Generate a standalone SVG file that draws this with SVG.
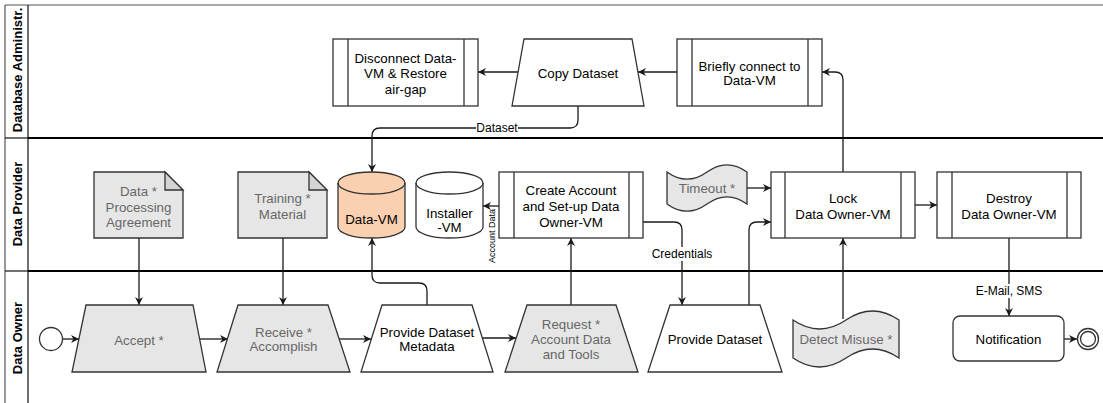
<svg xmlns="http://www.w3.org/2000/svg" width="1103" height="403" viewBox="0 0 1103 403">
  <defs>
    <style>
      .pool { fill: none; stroke: #555; stroke-width: 1.2; }
      .hdr { stroke: #222; stroke-width: 1.3; }
      .sep { stroke: #000; stroke-width: 2.2; }
      .sh { fill: #fff; stroke: #333; stroke-width: 1.3; }
      .gr { fill: #e6e6e6; }
      .peach { fill: #fad0b0; }
      .fold { fill: #d4d4d4; stroke: #333; stroke-width: 1.3; }
      .c { fill: none; stroke: #1a1a1a; stroke-width: 1.3; marker-end: url(#arr); }
      .cn { fill: none; stroke: #1a1a1a; stroke-width: 1.3; }
      .t { font-family: "Liberation Sans", Arial, sans-serif; font-size: 13.3px; text-anchor: middle; fill: #000; }
      .tg { fill: #666; }
      .lane { font-family: "Liberation Sans", Arial, sans-serif; font-size: 13px; font-weight: bold; text-anchor: middle; fill: #000; }
      .lbl { font-family: "Liberation Sans", Arial, sans-serif; font-size: 12px; text-anchor: middle; fill: #000; }
      .small { font-family: "Liberation Sans", Arial, sans-serif; font-size: 9px; text-anchor: middle; fill: #000; }
      .bg { fill: #fff; }
    </style>
    <marker id="arr" viewBox="0 0 10 10" refX="10" refY="5" markerWidth="8" markerHeight="8" markerUnits="userSpaceOnUse" orient="auto">
      <path d="M0,0 L10,5 L0,10 L3,5 Z" fill="#1a1a1a"/>
    </marker>
  </defs>

  <rect x="0" y="0" width="1103" height="403" fill="#fff"/>

  <!-- pool and swimlanes -->
  <g id="pool">
    <line class="pool" x1="5" y1="5" x2="1103" y2="5"/>
    <line class="pool" x1="5" y1="5" x2="5" y2="403"/>
    <line class="hdr" x1="28" y1="5" x2="28" y2="403"/>
    <line class="hdr" x1="5" y1="138" x2="28" y2="138"/>
    <line class="hdr" x1="5" y1="271" x2="28" y2="271"/>
    <line class="sep" x1="28" y1="138" x2="1103" y2="138"/>
    <line class="sep" x1="28" y1="271" x2="1103" y2="271"/>
    <text class="lane" transform="translate(21.5,70) rotate(-90)">Database Administr.</text>
    <text class="lane" transform="translate(21.5,204) rotate(-90)">Data Provider</text>
    <text class="lane" transform="translate(21.5,338) rotate(-90)">Data Owner</text>
  </g>

  <!-- connectors -->
  <g id="connectors">
    <path class="c" d="M62 339 L79 339"/>
    <path class="c" d="M200 339 L228 339"/>
    <path class="c" d="M339 339 L371 339"/>
    <path class="c" d="M483 338 L516 338"/>
    <path class="c" d="M139 238 L139 305"/>
    <path class="c" d="M283 238 L283 305"/>
    <path class="c" d="M427 305 L427 291 Q427 283 419 283 L380 283 Q372 283 372 275 L372 238"/>
    <path class="c" d="M578 106 L578 120 Q578 128 570 128 L380 128 Q372 128 372 136 L372 172"/>
    <path class="c" d="M571 305 L571 238"/>
    <path class="c" d="M499 206 L483 206"/>
    <path class="c" d="M643 222 L674 222 Q682 222 682 230 L682 305"/>
    <path class="c" d="M749 305 L749 230 Q749 222 757 222 L771 222"/>
    <path class="c" d="M747 188 L771 188"/>
    <path class="c" d="M843 319 L843 238"/>
    <path class="c" d="M843 172 L843 80 Q843 72 835 72 L822 72"/>
    <path class="c" d="M677 72 L638 72"/>
    <path class="c" d="M518 72 L478 72"/>
    <path class="c" d="M915 205 L937 205"/>
    <path class="c" d="M1009 238 L1009 316"/>
    <path class="c" d="M1064 339 L1077 339"/>

    <rect class="bg" x="476" y="121" width="42" height="14"/>
    <text class="lbl" x="497" y="132.2">Dataset</text>
    <rect class="bg" x="651" y="247" width="62" height="14"/>
    <text class="lbl" x="682" y="258.2">Credentials</text>
    <rect class="bg" x="975" y="284" width="68" height="14"/>
    <text class="lbl" x="1009" y="295.2">E-Mail, SMS</text>
    <text class="small" transform="translate(495.2,236) rotate(-90)">Account Data</text>
  </g>

  <!-- Database Administrator lane -->
  <g id="disconnect">
    <rect class="sh" x="333" y="39" width="145" height="67"/>
    <line class="sh" x1="348" y1="39" x2="348" y2="106"/>
    <line class="sh" x1="464" y1="39" x2="464" y2="106"/>
    <text class="t" x="405.5" y="62.7">Disconnect Data-</text>
    <text class="t" x="405.5" y="78">VM &amp; Restore</text>
    <text class="t" x="405.5" y="93.5">air-gap</text>
  </g>
  <g id="copy-dataset">
    <path class="sh" d="M524 39 L632 39 L644 106 L512 106 Z"/>
    <text class="t" x="578" y="77.7">Copy Dataset</text>
  </g>
  <g id="briefly-connect">
    <rect class="sh" x="677" y="39" width="145" height="67"/>
    <line class="sh" x1="692" y1="39" x2="692" y2="106"/>
    <line class="sh" x1="808" y1="39" x2="808" y2="106"/>
    <text class="t" x="749.5" y="70.7">Briefly connect to</text>
    <text class="t" x="749.5" y="85">Data-VM</text>
  </g>

  <!-- Data Provider lane -->
  <g id="dpa">
    <path class="sh gr" d="M94 172 L165 172 L183 190 L183 238 L94 238 Z"/>
    <path class="fold" d="M165 172 L165 190 L183 190 Z"/>
    <text class="t tg" x="138.5" y="195.7">Data *</text>
    <text class="t tg" x="138.5" y="211.5">Processing</text>
    <text class="t tg" x="138.5" y="227">Agreement</text>
  </g>
  <g id="training">
    <path class="sh gr" d="M238 172 L309 172 L327 190 L327 238 L238 238 Z"/>
    <path class="fold" d="M309 172 L309 190 L327 190 Z"/>
    <text class="t tg" x="282.5" y="202.7">Training *</text>
    <text class="t tg" x="282.5" y="218.5">Material</text>
  </g>
  <g id="data-vm">
    <path class="sh peach" d="M338 183 A33.5 11 0 0 1 405 183 L405 227 A33.5 11 0 0 1 338 227 Z"/>
    <path class="sh" fill="none" d="M338 183 A33.5 11 0 0 0 405 183" style="fill:none"/>
    <text class="t" x="371.5" y="224">Data-VM</text>
  </g>
  <g id="installer-vm">
    <path class="sh" d="M416 183 A33.5 11 0 0 1 483 183 L483 227 A33.5 11 0 0 1 416 227 Z"/>
    <path class="sh" d="M416 183 A33.5 11 0 0 0 483 183" style="fill:none"/>
    <text class="t" x="449.5" y="217.7">Installer</text>
    <text class="t" x="449.5" y="231.7">-VM</text>
  </g>
  <g id="create-account">
    <rect class="sh" x="499" y="172" width="144" height="66"/>
    <line class="sh" x1="514" y1="172" x2="514" y2="238"/>
    <line class="sh" x1="629" y1="172" x2="629" y2="238"/>
    <text class="t" x="571" y="194.7">Create Account</text>
    <text class="t" x="571" y="210.7">and Set-up Data</text>
    <text class="t" x="571" y="226.7">Owner-VM</text>
  </g>
  <g id="timeout">
    <path class="sh gr" d="M667 172 Q687 186.4 707 172 Q727 157.6 747 172 L747 204 Q727 189.6 707 204 Q687 218.4 667 204 Z"/>
    <text class="t tg" x="707" y="192.7">Timeout *</text>
  </g>
  <g id="lock">
    <rect class="sh" x="771" y="172" width="144" height="66"/>
    <line class="sh" x1="785" y1="172" x2="785" y2="238"/>
    <line class="sh" x1="901" y1="172" x2="901" y2="238"/>
    <text class="t" x="843" y="202.7">Lock</text>
    <text class="t" x="843" y="218.7">Data Owner-VM</text>
  </g>
  <g id="destroy">
    <rect class="sh" x="937" y="172" width="144" height="66"/>
    <line class="sh" x1="952" y1="172" x2="952" y2="238"/>
    <line class="sh" x1="1067" y1="172" x2="1067" y2="238"/>
    <text class="t" x="1009" y="202.7">Destroy</text>
    <text class="t" x="1009" y="218.7">Data Owner-VM</text>
  </g>

  <!-- Data Owner lane -->
  <g id="start">
    <circle class="sh" cx="51" cy="339" r="11.5"/>
  </g>
  <g id="accept">
    <path class="sh gr" d="M86 305 L193 305 L206 372 L72 372 Z"/>
    <text class="t tg" x="139" y="344.7">Accept *</text>
  </g>
  <g id="receive">
    <path class="sh gr" d="M238 305 L328 305 L350 372 L217 372 Z"/>
    <text class="t tg" x="283.5" y="336.7">Receive *</text>
    <text class="t tg" x="283.5" y="350.7">Accomplish</text>
  </g>
  <g id="provide-metadata">
    <path class="sh" d="M382 305 L472 305 L493 372 L361 372 Z"/>
    <text class="t" x="427" y="336.7">Provide Dataset</text>
    <text class="t" x="427" y="350.7">Metadata</text>
  </g>
  <g id="request">
    <path class="sh gr" d="M527 305 L616 305 L638 372 L505 372 Z"/>
    <text class="t tg" x="571" y="328.7">Request *</text>
    <text class="t tg" x="571" y="343.7">Account Data</text>
    <text class="t tg" x="571" y="358.7">and Tools</text>
  </g>
  <g id="provide-dataset">
    <path class="sh" d="M670 305 L760 305 L782 372 L648 372 Z"/>
    <text class="t" x="715" y="343.7">Provide Dataset</text>
  </g>
  <g id="detect-misuse">
    <path class="sh gr" d="M793 320 Q819.5 338 846 320 Q872.5 302 899 320 L899 358 Q872.5 340 846 358 Q819.5 376 793 358 Z"/>
    <text class="t tg" x="846" y="343.7">Detect Misuse *</text>
  </g>
  <g id="notification">
    <rect class="sh" x="953" y="316" width="111" height="45" rx="7"/>
    <text class="t" x="1008.5" y="343.7">Notification</text>
  </g>
  <g id="end">
    <circle class="sh" cx="1088" cy="339" r="10.5"/>
    <circle class="sh" cx="1088" cy="339" r="7.5"/>
  </g>
</svg>
